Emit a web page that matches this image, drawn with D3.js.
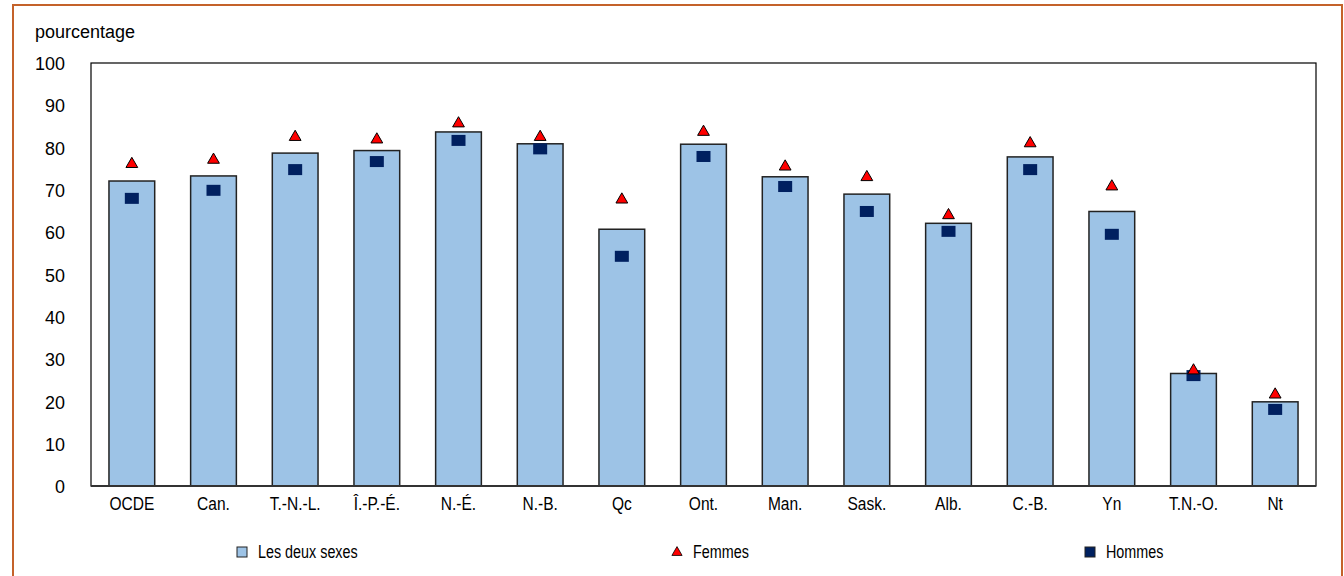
<!DOCTYPE html>
<html><head><meta charset="utf-8">
<script src="https://cdn.jsdelivr.net/npm/d3@7"></script>
<style>
html,body{margin:0;padding:0;background:#fff;}
svg text{font-family:"Liberation Sans",Arial,sans-serif;fill:#000;}
</style></head>
<body><svg id="c" width="1344" height="576"></svg>
<script>
const categories = ["OCDE","Can.","T.-N.-L.","Î.-P.-É.","N.-É.","N.-B.","Qc","Ont.","Man.","Sask.","Alb.","C.-B.","Yn","T.N.-O.","Nt"];
const deuxSexes = [72.1,73.3,78.7,79.3,83.7,80.9,60.7,80.8,73.1,69.0,62.1,77.8,64.9,26.6,19.9];
const femmes    = [76.1,77.1,82.5,81.9,85.7,82.5,67.7,83.7,75.5,73.0,64.0,81.0,70.8,27.3,21.6];
const hommes    = [68.0,69.9,74.8,76.7,81.7,79.7,54.3,77.9,70.8,64.9,60.2,74.8,59.5,26.1,18.1];
const yTicks    = [0,10,20,30,40,50,60,70,80,90,100];
const seriesNames = ["Les deux sexes","Femmes","Hommes"];

const svg = d3.select("#c");
// outer frame
svg.append("rect").attr("x",13).attr("y",5).attr("width",1329).attr("height",580)
  .attr("fill","none").attr("stroke","#C4622A").attr("stroke-width",2);

const L=91, R=1316, T=63, B=486;
const x = d3.scaleBand().domain(categories).range([L,R]).paddingInner(0.44).paddingOuter(0.22);
const y = d3.scaleLinear().domain([0,100]).range([B,T]);

// bars
svg.append("g").selectAll("rect").data(categories).join("rect")
  .attr("x",d=>x(d)).attr("width",x.bandwidth())
  .attr("y",(d,i)=>y(deuxSexes[i])).attr("height",(d,i)=>B-y(deuxSexes[i]))
  .attr("fill","#9DC3E6").attr("stroke","#222").attr("stroke-width",1.5);

// plot frame
svg.append("rect").attr("x",L).attr("y",T).attr("width",R-L).attr("height",B-T)
  .attr("fill","none").attr("stroke","#000").attr("stroke-width",1.2);
svg.append("line").attr("x1",L).attr("x2",R).attr("y1",B).attr("y2",B).attr("stroke","#333").attr("stroke-width",2);

// hommes squares
svg.append("g").selectAll("rect").data(categories).join("rect")
  .attr("x",d=>x(d)+x.bandwidth()/2-7).attr("width",14)
  .attr("y",(d,i)=>y(hommes[i])-5.5).attr("height",11)
  .attr("fill","#002060");

// femmes triangles
const tri = d3.symbol().type(d3.symbolTriangle).size(60);
svg.append("g").selectAll("path").data(categories).join("path")
  .attr("d",tri)
  .attr("transform",(d,i)=>`translate(${x(d)+x.bandwidth()/2},${y(femmes[i])})`)
  .attr("fill","#FF0000").attr("stroke","#000").attr("stroke-width",1);

// y axis labels
const yAxis = d3.axisLeft(y).tickValues(yTicks).tickSize(0).tickPadding(0);
const ga = svg.append("g").attr("transform",`translate(65,0)`).call(yAxis);
ga.select(".domain").remove();
ga.selectAll("text").attr("font-size",18.5).attr("font-family",null).attr("dy","0.36em").attr("transform","scale(0.97,1)");

// x axis labels
const xAxis = d3.axisBottom(x).tickSize(0).tickPadding(0);
const gx = svg.append("g").attr("transform",`translate(0,${B+17.5})`).call(xAxis);
gx.select(".domain").remove();
gx.selectAll("text").attr("font-size",18.5).attr("font-family",null).attr("dy","0.36em").attr("y",0).attr("transform","scale(0.84,1)");

svg.append("text").attr("x",35).attr("y",38).attr("font-size",18).text("pourcentage");

// legend
const lg = svg.append("g");
const legX = [242,677,1090];
seriesNames.forEach((n,i)=>{
  const g = lg.append("g").attr("transform",`translate(${legX[i]},551.5)`);
  if(i===0) g.append("rect").attr("x",-5).attr("y",-4.5).attr("width",10).attr("height",10).attr("fill","#9DC3E6").attr("stroke","#222").attr("stroke-width",1);
  if(i===1) g.append("path").attr("d",d3.symbol().type(d3.symbolTriangle).size(45)).attr("transform","translate(0,1)").attr("fill","#FF0000").attr("stroke","#000").attr("stroke-width",0.8);
  if(i===2) g.append("rect").attr("x",-5).attr("y",-4.5).attr("width",10).attr("height",10).attr("fill","#002060").attr("stroke","#222").attr("stroke-width",1);
  g.append("text").attr("x",0).attr("y",0).attr("dy","0.36em").attr("font-size",17.5)
    .attr("transform","translate(16,0) scale(0.82,1)").text(n);
});
</script></body></html>
